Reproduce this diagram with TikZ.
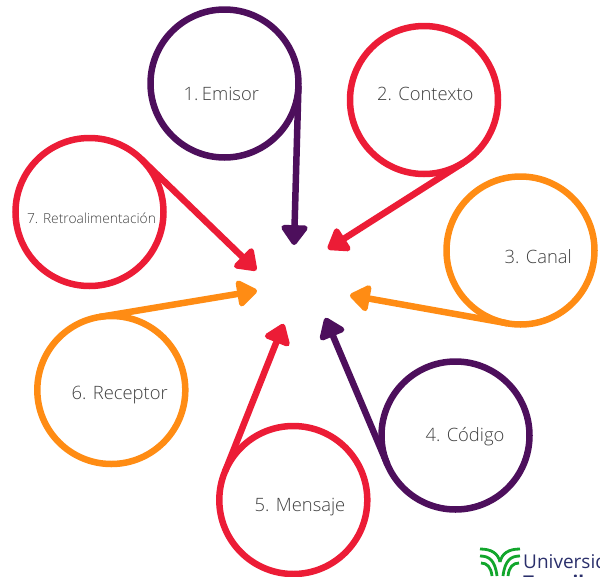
\documentclass[tikz,border=0pt]{standalone}
\usepackage{fontspec}
\setmainfont{Open Sans Light}
\newfontfamily\logofont{Open Sans}
\usetikzlibrary{arrows.meta}
\definecolor{cpurple}{HTML}{4D0F5C}
\definecolor{cred}{HTML}{EC1C36}
\definecolor{corange}{HTML}{FF8C14}
\definecolor{ctext}{HTML}{404040}
\definecolor{cgreen}{HTML}{12A62C}
\definecolor{cnavy}{HTML}{2A2F6B}
\tikzset{
  ring/.style={circle,draw=#1,line width=6.5pt,minimum size=148pt,inner sep=0pt,outer sep=0pt},
  lab/.style={text=ctext,font=\fontsize{18.4}{20}\selectfont,inner sep=0pt},
  conn/.style={draw=#1,line width=6.5pt,-{Triangle[length=22pt,width=30pt,round]},shorten >=1pt},
  leaf/.style={draw=cgreen,line width=2.8pt}
}
\begin{document}
\begin{tikzpicture}[x=1pt,y=-1pt]
\useasboundingbox (0,0) rectangle (600,576);
\clip (0,0) rectangle (600,576);
\node[ring=cpurple] (c1) at (224.5,83.5) {};
\node[ring=cred] (c2) at (424,100) {};
\node[ring=corange] (c3) at (520.5,250.5) {};
\node[ring=cpurple] (c4) at (455.5,435.5) {};
\node[ring=cred] (c5) at (293.3,500) {};
\node[ring=corange] (c6) at (111.3,390) {};
\node[ring=cred] (c7) at (89.5,212) {};
\node[lab] (l1) at (221.3,94) {1. \kern-3pt Emisor};
\node[lab] (l2) at (425.3,94) {2. Contexto};
\node[lab] (l3) at (538.3,257) {3. Canal};
\node[lab] (l4) at (465,437) {4. Código};
\node[lab] (l5) at (300,507) {5. Mensaje};
\node[lab] (l6) at (119.7,395) {6. Receptor};
\node[lab,font=\fontsize{13.8}{15}\selectfont] (l7) at (91.5,218) {7. Retroalimentación};
\coordinate (t1) at (294,246);
\coordinate (t2) at (327,249.5);
\coordinate (t3) at (349,295);
\coordinate (t4) at (325,317);
\coordinate (t5) at (284,323);
\coordinate (t6) at (258,290.5);
\coordinate (t7) at (257,271);
\draw[conn=cpurple] (c1.-2) -- (t1);
\draw[conn=cred] (c2.-58) -- (t2);
\draw[conn=corange] (c3.260) -- (t3);
\draw[conn=cpurple] (c4.203) -- (t4);
\draw[conn=cred] (c5.157) -- (t5);
\draw[conn=corange] (c6.99) -- (t6);
\draw[conn=cred] (c7.46) -- (t7);
% logo
\draw[leaf] (480,549) .. controls (491,549) and (498,553) .. (500,562);
\draw[leaf] (520,549) .. controls (509,549) and (502,553) .. (500,562);
\draw[leaf] (480,556) .. controls (489,556) and (495,560) .. (497,576);
\draw[leaf] (520,556) .. controls (511,556) and (505,560) .. (503,576);
\draw[leaf] (481,563) .. controls (487,563) and (491,567) .. (492,576);
\draw[leaf] (519,563) .. controls (513,563) and (509,567) .. (508,576);
\node[anchor=base west,inner sep=0pt,text=cnavy,font=\logofont\fontsize{19}{22}\selectfont] (u1) at (523,568) {Universidad};
\node[anchor=base west,inner sep=0pt,text=cnavy,font=\logofont\fontsize{19}{22}\selectfont\bfseries] (u2) at (523,589) {Tecmilenio};
\end{tikzpicture}
\end{document}
